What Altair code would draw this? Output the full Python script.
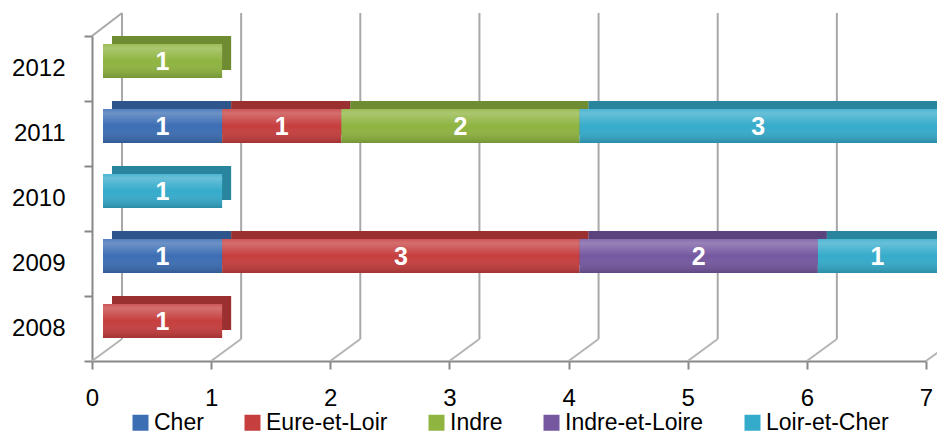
import altair as alt
import pandas as pd

years = ["2012", "2011", "2010", "2009", "2008"]
series = ["Cher", "Eure-et-Loir", "Indre", "Indre-et-Loire", "Loir-et-Cher"]
cher = [0, 1, 0, 1, 0]
eure_et_loir = [0, 1, 0, 3, 1]
indre = [1, 2, 0, 0, 0]
indre_et_loire = [0, 0, 0, 2, 0]
loir_et_cher = [0, 3, 1, 1, 0]
colors = ["#3C6EB4", "#C63E3E", "#8FB440", "#7558A0", "#35ABCB"]
x_ticks = [0, 1, 2, 3, 4, 5, 6, 7]

FONT = "Liberation Sans"

rows = []
for i, (name, vals) in enumerate(zip(series, [cher, eure_et_loir, indre, indre_et_loire, loir_et_cher])):
    for y, v in zip(years, vals):
        if v > 0:
            rows.append({"year": y, "series": name, "value": v, "order": i})
df = pd.DataFrame(rows)
grid = pd.DataFrame({"t": x_ticks})

xscale = alt.Scale(domain=[0, 7], nice=False, zero=True)
xaxis = alt.Axis(values=x_ticks, title=None, grid=False, tickSize=8, labelPadding=17,
                 format="d", labelFlush=False)
yaxis = alt.Axis(title=None, tickBand="extent", tickSize=8, labelPadding=19, grid=False)
Y = alt.Y("year:N", sort=years, scale=alt.Scale(paddingInner=0, paddingOuter=0), axis=yaxis)
C = alt.Color("series:N", scale=alt.Scale(domain=series, range=colors),
              legend=alt.Legend(orient="none", legendX=37, legendY=375, direction="horizontal",
                                title=None, symbolType="square", symbolSize=256,
                                labelFontSize=23, labelFont=FONT, columnPadding=37,
                                labelOffset=2, symbolStrokeWidth=0, symbolOpacity=1,
                                labelColor="#000000"))

base = alt.Chart(df).transform_stack(
    stack="value", as_=["x0", "x1"], groupby=["year"],
    sort=[alt.SortField("order", order="ascending")]
).transform_calculate(mid="(datum.x0 + datum.x1) / 2")

gbase = alt.Chart(grid)
back_grid = gbase.mark_rule(color="#A8A8A8", strokeWidth=2, xOffset=30).encode(
    x=alt.X("t:Q", scale=xscale, axis=xaxis), y=alt.value(-23), y2=alt.value(303))
diag = gbase.mark_rule(color="#B4B4B4", strokeWidth=2, x2Offset=30).encode(
    x=alt.X("t:Q", scale=xscale, axis=xaxis), x2="t:Q", y=alt.value(325), y2=alt.value(303))
top_diag = gbase.transform_filter("datum.t == 0").mark_rule(
    color="#A8A8A8", strokeWidth=2, x2Offset=30).encode(
    x=alt.X("t:Q", scale=xscale, axis=xaxis), x2="t:Q", y=alt.value(0), y2=alt.value(-23))

X0 = alt.X("x0:Q", scale=xscale, axis=xaxis)
back = base.mark_bar(height=34, xOffset=20, x2Offset=20, yOffset=-15.5).encode(
    x=X0, x2="x1:Q", y=Y, color=C)
back_dark = base.mark_bar(height=34, xOffset=20, x2Offset=20, yOffset=-15.5,
                          color="#000000", opacity=0.22).encode(x=X0, x2="x1:Q", y=Y)
front = base.mark_bar(height=34, xOffset=11, x2Offset=11, yOffset=-7.5).encode(
    x=X0, x2="x1:Q", y=Y, color=C)
grad = alt.LinearGradient(
    gradient="linear", x1=0, x2=0, y1=0, y2=1,
    stops=[alt.GradientStop(color="rgba(255,255,255,0.12)", offset=0),
           alt.GradientStop(color="rgba(255,255,255,0.25)", offset=0.12),
           alt.GradientStop(color="rgba(255,255,255,0.0)", offset=0.5),
           alt.GradientStop(color="rgba(0,0,0,0.18)", offset=1)])
front_shade = base.mark_bar(height=34, xOffset=11, x2Offset=11, yOffset=-7.5,
                            color=grad).encode(x=X0, x2="x1:Q", y=Y)
labels = base.mark_text(color="white", fontSize=25, fontWeight="bold", font=FONT,
                        xOffset=11, yOffset=-7, baseline="middle", align="center").encode(
    x=alt.X("mid:Q", scale=xscale, axis=xaxis), y=Y, text="value:Q")

chart = alt.layer(back_grid, diag, top_diag, back, back_dark, front, front_shade, labels).properties(
    width=834, height=325, autosize="none",
    padding={"left": 84, "top": 28, "right": 11, "bottom": 73}
).configure_view(stroke=None).configure_axis(
    domainColor="#888888", domainWidth=2, tickColor="#888888", tickWidth=2,
    labelFont=FONT, labelFontSize=24, labelColor="#000000"
)

chart.save("out.html", embed_options={"renderer": "svg", "actions": False})
